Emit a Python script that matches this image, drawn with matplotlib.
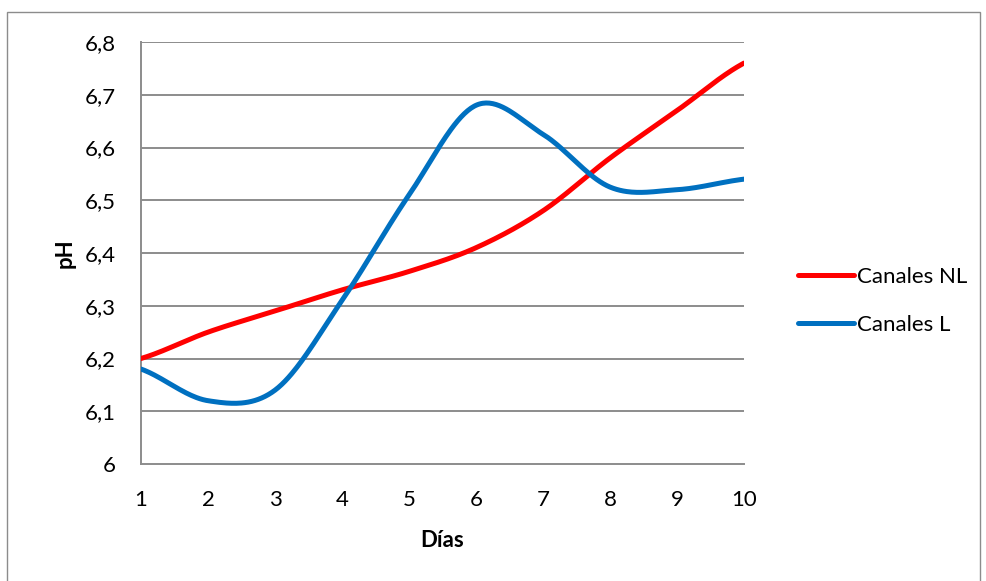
import matplotlib.pyplot as plt
import numpy as np
from matplotlib.patches import Rectangle

# pH readings per day
dias = [1, 2, 3, 4, 5, 6, 7, 8, 9, 10]
canales_nl = [6.20, 6.25, 6.29, 6.33, 6.365, 6.41, 6.48, 6.58, 6.67, 6.76]
canales_l = [6.18, 6.12, 6.14, 6.31, 6.51, 6.68, 6.625, 6.525, 6.52, 6.54]

y_ticks = [6.0, 6.1, 6.2, 6.3, 6.4, 6.5, 6.6, 6.7, 6.8]


def smooth(x, y, n=40, end=0.75):
    # Catmull-Rom curve through every point (spreadsheet style smoothed line)
    x = np.asarray(x, float)
    y = np.asarray(y, float)
    m = np.zeros_like(y)
    m[1:-1] = (y[2:] - y[:-2]) / (x[2:] - x[:-2])
    m[0] = end * (y[1] - y[0]) / (x[1] - x[0])
    m[-1] = end * (y[-1] - y[-2]) / (x[-1] - x[-2])
    xs, ys = [], []
    for i in range(len(x) - 1):
        h = x[i + 1] - x[i]
        t = np.linspace(0, 1, n, endpoint=(i == len(x) - 2))
        h00 = 2 * t**3 - 3 * t**2 + 1
        h10 = t**3 - 2 * t**2 + t
        h01 = -2 * t**3 + 3 * t**2
        h11 = t**3 - t**2
        xs.append(x[i] + t * h)
        ys.append(h00 * y[i] + h10 * h * m[i] + h01 * y[i + 1] + h11 * h * m[i + 1])
    return np.concatenate(xs), np.concatenate(ys)


plt.rcParams['font.family'] = ['Lato', 'DejaVu Sans']

fig = plt.figure(figsize=(9.87, 5.81), dpi=100)
ax = fig.add_axes([141 / 987, 117 / 581, 603 / 987, 422 / 581])

grid_c = '#8c8c8c'
for v in y_ticks[1:]:
    ax.axhline(v, color=grid_c, lw=1.4, zorder=1)

sx, sy = smooth(dias, canales_nl)
ax.plot(sx, sy, color='#ff0000', lw=3.6, solid_capstyle='round', label='Canales NL', zorder=3)
sx, sy = smooth(dias, canales_l)
ax.plot(sx, sy, color='#0070c0', lw=3.6, solid_capstyle='round', label='Canales L', zorder=3)

ax.set_xlim(1, 10)
ax.set_ylim(6.0, 6.8)
ax.set_xticks(dias)
ax.set_yticks(y_ticks)
ax.set_yticklabels([('%g' % v).replace('.', ',') for v in y_ticks])
ax.tick_params(length=0, labelsize=16, colors='black')
ax.tick_params(axis='y', pad=18)
ax.tick_params(axis='x', pad=19)

for s in ['top', 'right']:
    ax.spines[s].set_visible(False)
for s in ['left', 'bottom']:
    ax.spines[s].set_color(grid_c)
    ax.spines[s].set_linewidth(1.4)

ax.set_xlabel('Días', fontsize=16, fontweight='bold', labelpad=14)
ax.set_ylabel('pH', fontsize=16, fontweight='bold', labelpad=7)

leg = ax.legend(loc='center left', bbox_to_anchor=(1.057, 0.386), frameon=False,
                fontsize=16, handlelength=2.5, handletextpad=0.15, labelspacing=1.25)

# outer chart border
fig.patches.append(Rectangle((7 / 987, -0.02), 973 / 987, 1.02 - 12 / 581,
                             transform=fig.transFigure, fill=False,
                             edgecolor='#8c8c8c', lw=1.0))

fig.savefig('out.png', dpi=100)
